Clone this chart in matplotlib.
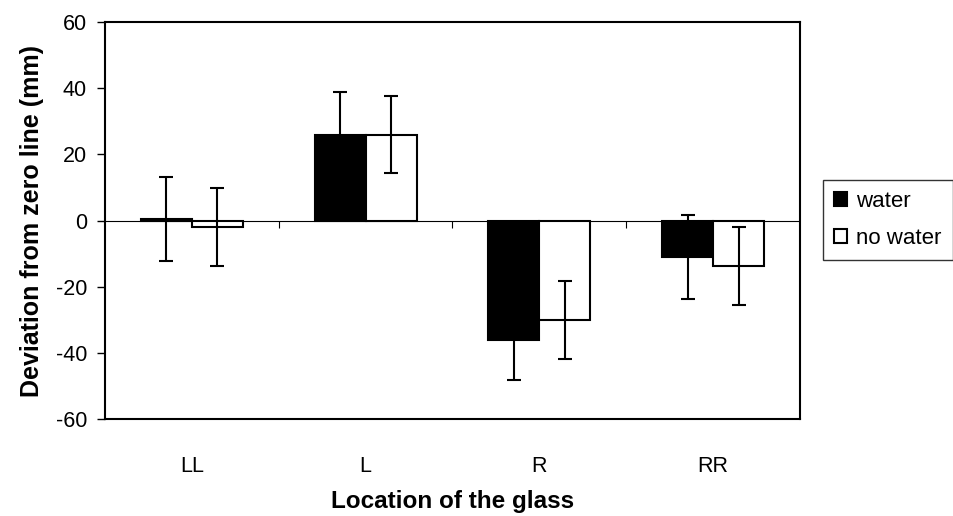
import numpy as np
import matplotlib
matplotlib.use('Agg')
import matplotlib.pyplot as plt

plt.rcParams['font.family'] = ['Liberation Sans', 'DejaVu Sans']
plt.rcParams['axes.unicode_minus'] = False

categories = ['LL', 'L', 'R', 'RR']
water = [0.5, 26, -36.2, -10.9]
water_err = [12.6, 13, 12.1, 12.7]
no_water = [-1.8, 26, -30.1, -13.6]
no_water_err = [11.8, 11.7, 11.8, 11.8]

fig = plt.figure(figsize=(9.54, 5.16), dpi=100)
ax = fig.add_axes([0.110, 0.188, 0.7286, 0.769])

x = np.arange(len(categories))
w = 0.293
ekw = dict(elinewidth=1.5, capthick=1.5, ecolor='black')
ax.bar(x - w/2, water, w, color='black', edgecolor='black', linewidth=1.5,
       yerr=water_err, capsize=5, error_kw=ekw, label='water', zorder=3)
ax.bar(x + w/2, no_water, w, color='white', edgecolor='black', linewidth=1.5,
       yerr=no_water_err, capsize=5, error_kw=ekw, label='no water', zorder=3)

# zero line and category separators like Excel
ax.axhline(0, color='black', linewidth=0.8, zorder=2)
bounds = np.arange(len(categories) - 1) + 0.5
ax.vlines(bounds, -2.2, 0, color='black', linewidth=0.8, zorder=2)

ax.set_xlim(-0.5, len(categories) - 0.5)
ax.set_ylim(-60, 60)
ax.set_yticks(np.arange(-60, 61, 20))
ax.set_xticks(x)
ax.set_xticklabels(categories)
ax.tick_params(axis='x', length=0, pad=27, labelsize=15.5)
ax.tick_params(axis='y', length=6, width=1, direction='out', pad=7, labelsize=15.5)
for s in ax.spines.values():
    s.set_linewidth(1.5)

ax.set_ylabel('Deviation from zero line (mm)', fontsize=18, fontweight='bold', labelpad=8)
ax.set_xlabel('Location of the glass', fontsize=17.5, fontweight='bold', labelpad=9)

leg = ax.legend(loc='upper left', bbox_to_anchor=(823/954, 1 - 180/516),
                bbox_transform=fig.transFigure, fontsize=16, frameon=True,
                fancybox=False, handlelength=0.6, handleheight=0.6,
                handletextpad=0.4, borderpad=0.5, labelspacing=0.7,
                borderaxespad=0)
leg.get_frame().set_edgecolor('black')
leg.get_frame().set_linewidth(1)

fig.savefig('out.png', dpi=100)
